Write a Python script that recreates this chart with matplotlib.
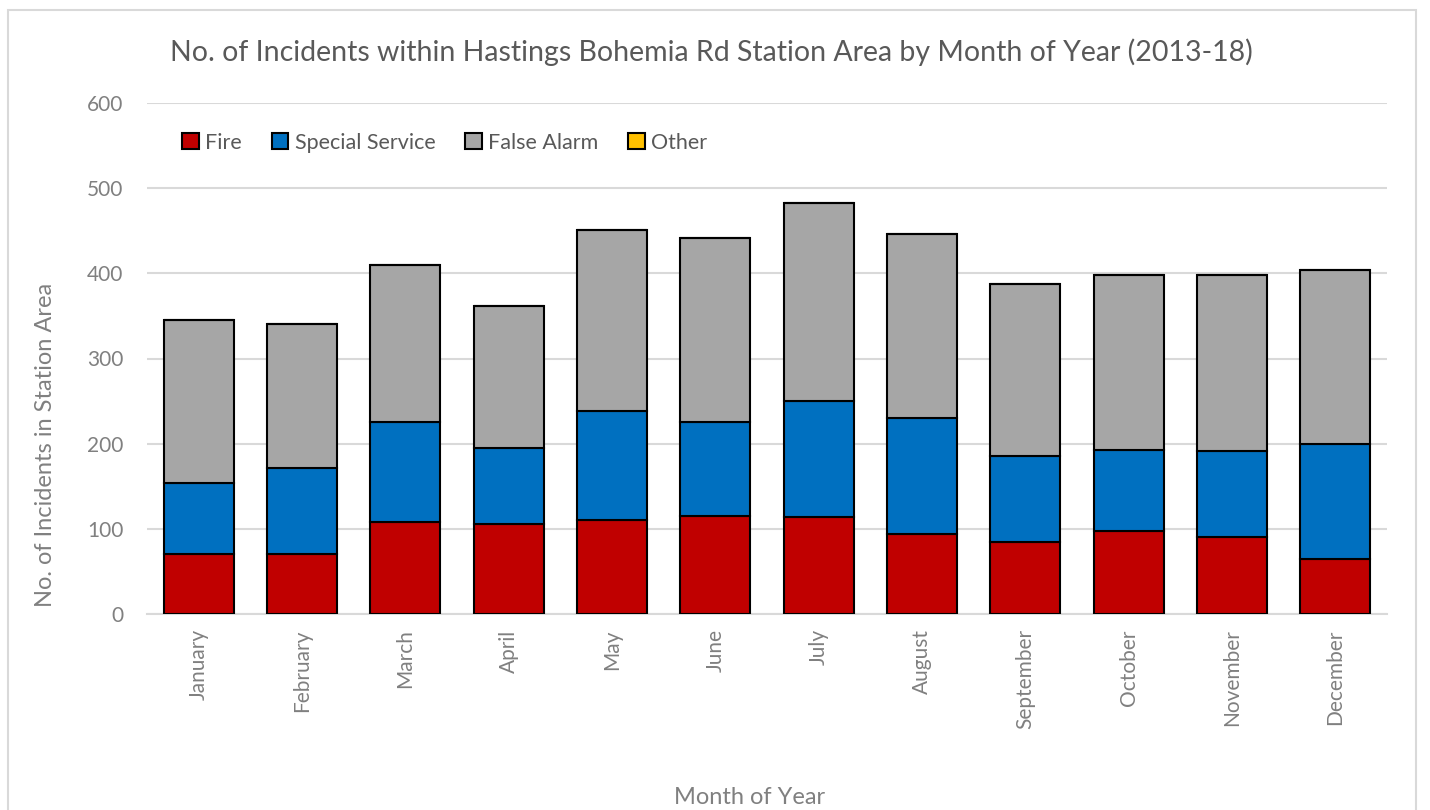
import matplotlib.pyplot as plt
from matplotlib.patches import Rectangle
import numpy as np

months = ["January", "February", "March", "April", "May", "June",
          "July", "August", "September", "October", "November", "December"]
fire = [70, 71, 108, 106, 110, 115, 114, 94, 85, 98, 90, 64]
special_service = [84, 100, 117, 89, 128, 111, 136, 136, 101, 94, 101, 136]
false_alarm = [191, 169, 185, 167, 213, 215, 233, 216, 202, 206, 207, 204]
other = [0, 0, 0, 0, 0, 0, 0, 0, 0, 0, 0, 0]

series = [
    ("Fire", fire, "#C00000"),
    ("Special Service", special_service, "#0070C0"),
    ("False Alarm", false_alarm, "#A6A6A6"),
    ("Other", other, "#FFC000"),
]

plt.rcParams["font.family"] = ["Lato", "DejaVu Sans"]
text_col = "#595959"
tick_col = "#808080"

fig = plt.figure(figsize=(14.3, 8.1), dpi=100)
ax = fig.add_axes([147 / 1430, 1 - 614 / 810, 1240 / 1430, 511 / 810])

x = np.arange(len(months))
bottom = np.zeros(len(months))
for name, vals, col in series:
    ax.bar(x, vals, 0.68, bottom=bottom, color=col, edgecolor="black",
           linewidth=1.5, label=name, zorder=3)
    bottom += np.array(vals)

ax.set_xlim(-0.5, len(months) - 0.5)
ax.set_ylim(0, 600)
ax.set_yticks(range(0, 601, 100))
ax.yaxis.grid(True, color="#D9D9D9", linewidth=1.5, zorder=0)
for s in ["top", "right", "left"]:
    ax.spines[s].set_visible(False)
ax.spines["bottom"].set_color("#D9D9D9")
ax.spines["bottom"].set_linewidth(1.5)
ax.tick_params(axis="both", length=0, colors=tick_col, labelsize=15)
ax.tick_params(axis="y", pad=17)
ax.tick_params(axis="x", pad=11)
ax.set_xticks(x)
ax.set_xticklabels(months, rotation=90)

ax.set_ylabel("No. of Incidents in Station Area", fontsize=17, color=tick_col)
ax.yaxis.set_label_coords(-0.073, 0.33)
fig.text(750 / 1430, 1 - 798 / 810, "Month of Year", fontsize=17, color=tick_col,
         ha="center", va="center")
fig.text(711 / 1430, 1 - 52 / 810,
         "No. of Incidents within Hastings Bohemia Rd Station Area by Month of Year (2013-18)",
         fontsize=20.5, color=text_col, ha="center", va="center")

leg = ax.legend(loc="upper left", bbox_to_anchor=(0.013, 0.98), ncol=4, frameon=False,
                fontsize=15.5, handlelength=0.75, handleheight=0.75, handletextpad=0.3,
                columnspacing=1.4, labelcolor=text_col)

# chart border, open at the bottom edge of the image
fig.patches.append(Rectangle((8 / 1430, -0.05), 1408 / 1430, 1.05 - 10 / 810,
                             transform=fig.transFigure, fill=False,
                             edgecolor="#D9D9D9", linewidth=1.5))

fig.savefig("out.png", dpi=100)
